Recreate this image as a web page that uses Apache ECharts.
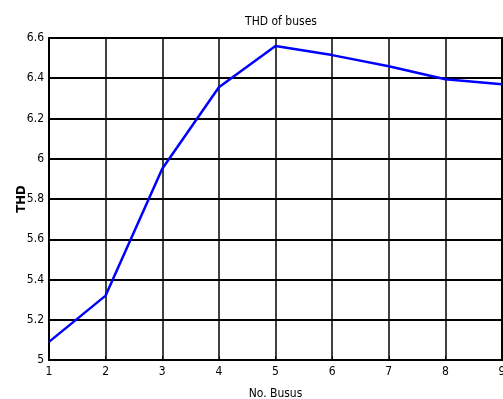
<!DOCTYPE html>
<html><head><meta charset="utf-8">
<script src="https://cdn.jsdelivr.net/npm/echarts@6/dist/echarts.min.js"></script>
<style>html,body{margin:0;padding:0;background:#fff}#c{width:503px;height:399px}</style>
</head><body><div id="c"></div>
<script>
const buses = [1, 2, 3, 4, 5, 6, 7, 8, 9];
const thd = [5.09, 5.32, 5.95, 6.355, 6.56, 6.515, 6.46, 6.395, 6.37];
const yTicks = [5, 5.2, 5.4, 5.6, 5.8, 6, 6.2, 6.4, 6.6];

const FONT = '"Liberation Sans Narrow", "Arial Narrow", "DejaVu Sans Condensed", "Liberation Sans", Arial, sans-serif';
const chart = echarts.init(document.getElementById('c'), null, {renderer: 'canvas'});
chart.setOption({
  animation: false,
  title: {
    text: 'THD of buses', left: 276, top: 11, textAlign: 'center',
    textStyle: {fontFamily: FONT, fontSize: 12, fontWeight: 'normal', color: '#000'}
  },
  grid: {left: 49, right: 1, top: 38, bottom: 39, containLabel: false, outerBoundsMode: 'none',
    show: true, borderColor: '#000', borderWidth: 2, backgroundColor: 'transparent'},
  xAxis: {
    type: 'value', min: 1, max: 9, interval: 1,
    name: 'No. Busus', nameLocation: 'middle', nameGap: 28, nameMoveOverlap: false,
    nameTextStyle: {fontFamily: FONT, fontSize: 12, color: '#000'},
    axisLine: {show: true, lineStyle: {color: '#000', width: 2}},
    axisTick: {show: true, inside: true, length: 4, lineStyle: {color: '#000'}},
    axisLabel: {fontFamily: FONT, fontSize: 12, color: '#000', margin: 6},
    splitLine: {show: true, lineStyle: {color: '#000', width: 1.5}}
  },
  yAxis: {
    type: 'value', min: 5, max: 6.6, interval: 0.2,
    name: 'THD', nameLocation: 'middle', nameGap: 21, nameRotate: 90, nameMoveOverlap: false,
    nameTextStyle: {fontFamily: FONT, fontSize: 13, fontWeight: 'bold', color: '#000'},
    axisLine: {show: true, lineStyle: {color: '#000', width: 2}},
    axisTick: {show: true, inside: true, length: 4, lineStyle: {color: '#000'}},
    axisLabel: {fontFamily: FONT, fontSize: 12, color: '#000', margin: 5,
      formatter: v => {
        const t = yTicks.find(x => Math.abs(x - v) < 1e-6);
        return t === undefined ? '' : String(Math.round(t * 10) / 10);
      }},
    splitLine: {show: true, lineStyle: {color: '#000', width: 2}}
  },
  series: [{
    type: 'line',
    data: buses.map((b, i) => [b, thd[i]]),
    showSymbol: false,
    lineStyle: {color: '#0000ff', width: 2.5},
    itemStyle: {color: '#0000ff'}
  }]
});
</script></body></html>
